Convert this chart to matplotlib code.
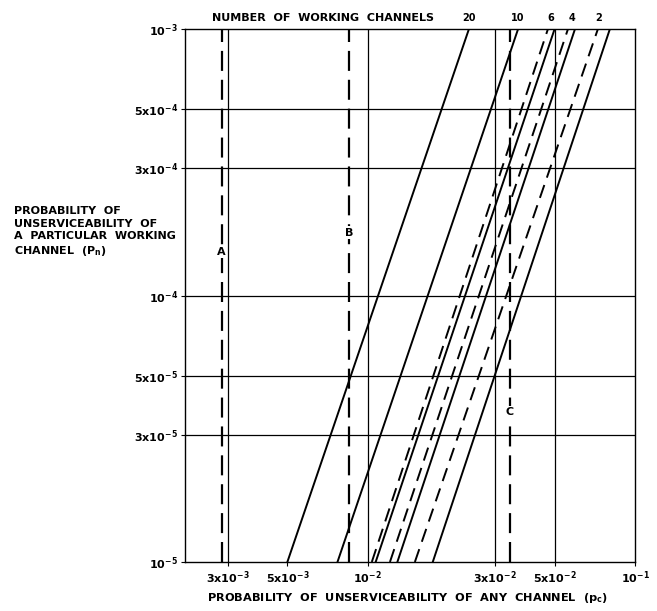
import numpy as np
import matplotlib
matplotlib.use('Agg')
import matplotlib.pyplot as plt

# Line end points: p_c where each curve meets p_n = 1e-5 and p_n = 1e-3
pn_ends = [1e-5, 1e-3]
channels = ['20', '10', '6', '4', '2']
pc_start_solid = [5.0e-3, 7.7e-3, 1.07e-2, 1.29e-2, 1.75e-2]
pc_end_solid = [2.39e-2, 3.65e-2, 5.0e-2, 5.96e-2, 8.05e-2]
pc_start_dashed = [1.035e-2, 1.21e-2, 1.50e-2]
pc_end_dashed = [4.72e-2, 5.61e-2, 7.26e-2]

# Vertical limit lines and where their letters sit
limit_names = ['A', 'B', 'C']
limit_pc = [2.84e-3, 8.5e-3, 3.4e-2]
limit_label_pn = [1.46e-4, 1.72e-4, 3.66e-5]

x_grid = [3e-3, 1e-2, 3e-2, 5e-2]
y_grid = [3e-5, 5e-5, 1e-4, 3e-4, 5e-4]

x_ticks = [3e-3, 5e-3, 1e-2, 3e-2, 5e-2, 1e-1]
x_ticklabels = ['3x10$^{-3}$', '5x10$^{-3}$', '10$^{-2}$',
                '3x10$^{-2}$', '5x10$^{-2}$', '10$^{-1}$']
y_ticks = [1e-5, 3e-5, 5e-5, 1e-4, 3e-4, 5e-4, 1e-3]
y_ticklabels = ['10$^{-5}$', '3x10$^{-5}$', '5x10$^{-5}$', '10$^{-4}$',
                '3x10$^{-4}$', '5x10$^{-4}$', '10$^{-3}$']

plt.rcParams['font.family'] = ['DejaVu Sans']
plt.rcParams['font.weight'] = 'bold'
plt.rcParams['mathtext.default'] = 'bf'

fig = plt.figure(figsize=(6.57, 6.11), dpi=100)
ax = fig.add_axes([0.2816, 0.0802, 0.685, 0.8723])
ax.set_xscale('log')
ax.set_yscale('log')
ax.set_xlim(2.07e-3, 1e-1)
ax.set_ylim(1e-5, 1e-3)

for x in x_grid:
    ax.axvline(x, color='black', lw=0.9, zorder=1)
for y in y_grid:
    ax.axhline(y, color='black', lw=0.9, zorder=1)

for a, b in zip(pc_start_solid, pc_end_solid):
    ax.plot([a, b], pn_ends, color='black', lw=1.4, zorder=3)
for a, b in zip(pc_start_dashed, pc_end_dashed):
    ax.plot([a, b], pn_ends, color='black', lw=1.4, dashes=(7, 4), zorder=3)

for name, x, y in zip(limit_names, limit_pc, limit_label_pn):
    ax.axvline(x, color='black', lw=1.6, dashes=(9, 4), zorder=2)
    ax.text(x, y, name, ha='center', va='center', fontsize=8,
            fontweight='bold', zorder=4,
            bbox=dict(facecolor='white', edgecolor='none', pad=1.0))

# channel counts over the top end of each solid line
label_nudge = [0, 0, -3, -2, -8]
for name, x, dx in zip(channels, pc_end_solid, label_nudge):
    ax.annotate(name, (x, 1.0), xycoords=('data', 'axes fraction'),
                xytext=(dx, 4), textcoords='offset points',
                ha='center', va='bottom', fontsize=7, fontweight='bold')

ax.text(0.06, 1.012, 'NUMBER  OF  WORKING  CHANNELS',
        transform=ax.transAxes, ha='left', va='bottom',
        fontsize=8, fontweight='bold')

ax.set_xticks(x_ticks)
ax.set_xticklabels(x_ticklabels, fontsize=8)
ax.set_yticks(y_ticks)
ax.set_yticklabels(y_ticklabels, fontsize=8)
ax.minorticks_off()
ax.tick_params(axis='both', length=3, width=0.8, pad=2)

for spine in ax.spines.values():
    spine.set_linewidth(1.0)

fig.text(0.022, 0.62,
         'PROBABILITY  OF\nUNSERVICEABILITY  OF\nA  PARTICULAR  WORKING\nCHANNEL  ($P_n$)',
         ha='left', va='center', fontsize=8, fontweight='bold',
         linespacing=1.3)

fig.text(0.62, 0.022,
         'PROBABILITY  OF  UNSERVICEABILITY  OF  ANY  CHANNEL  ($p_c$)',
         ha='center', va='center', fontsize=8.2, fontweight='bold')

fig.savefig('out.png', dpi=100)
